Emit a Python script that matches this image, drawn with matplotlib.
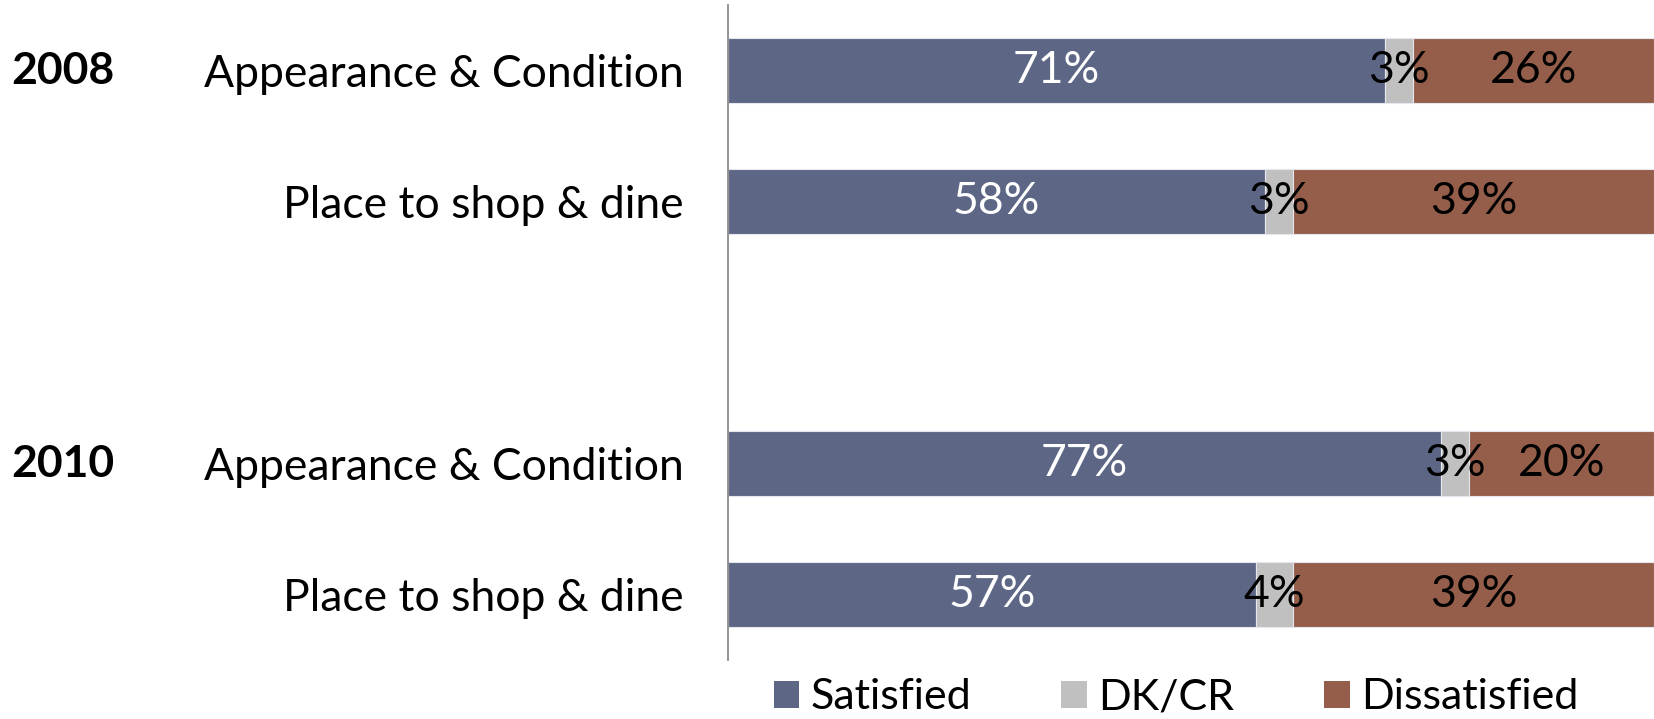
import matplotlib
matplotlib.use("Agg")
import matplotlib.pyplot as plt
import matplotlib.transforms as mtransforms
from matplotlib.patches import Patch

plt.rcParams['font.family'] = ['Lato', 'DejaVu Sans']

# data
years = ["2008", "2010"]
categories = ["Appearance & Condition", "Place to shop & dine",
              "Appearance & Condition", "Place to shop & dine"]
row_pos = [0, 1, 3, 4]
series = ["Satisfied", "DK/CR", "Dissatisfied"]
satisfied = [71, 58, 77, 57]
dkcr = [3, 3, 3, 4]
dissatisfied = [26, 39, 20, 39]

colors = ["#5d6785", "#c0c0c0", "#955e4a"]
text_colors = ["white", "black", "black"]

fig = plt.figure(figsize=(16.54, 7.19), dpi=100)
ax = fig.add_axes([0.44, 0.082, 0.56, 0.911])

left = [0, 0, 0, 0]
for vals, col, tcol in zip([satisfied, dkcr, dissatisfied], colors, text_colors):
    ax.barh(row_pos, vals, left=left, height=0.5, color=col,
            edgecolor="#e6e6ee", linewidth=0.8)
    for y, v, l in zip(row_pos, vals, left):
        ax.text(l + v / 2, y, f"{v}%", ha="center", va="center",
                color=tcol, fontsize=32)
    left = [a + b for a, b in zip(left, vals)]

ax.set_xlim(0, 100)
ax.set_ylim(4.5, -0.5)
ax.set_yticks(row_pos)
ax.set_yticklabels(categories, fontsize=32)
ax.tick_params(axis="y", length=0, pad=32)
ax.set_xticks([])
for s in ["top", "right", "bottom"]:
    ax.spines[s].set_visible(False)
ax.spines["left"].set_color("#808080")
ax.spines["left"].set_linewidth(1.2)

# year labels on the far left
trans = mtransforms.blended_transform_factory(fig.transFigure, ax.transData)
for yr, y in zip(years, [row_pos[0], row_pos[2]]):
    ax.text(0.007, y, yr, transform=trans, ha="left", va="center",
            fontsize=32, fontweight="bold")

handles = [Patch(facecolor=c, edgecolor="none") for c in colors]
fig.legend(handles, series, loc="center", bbox_to_anchor=(0.711, 0.03),
           ncol=3, frameon=False, fontsize=31, handlelength=0.6,
           handleheight=0.6, handletextpad=0.25, columnspacing=2.1)

fig.savefig("out.png", dpi=100)
